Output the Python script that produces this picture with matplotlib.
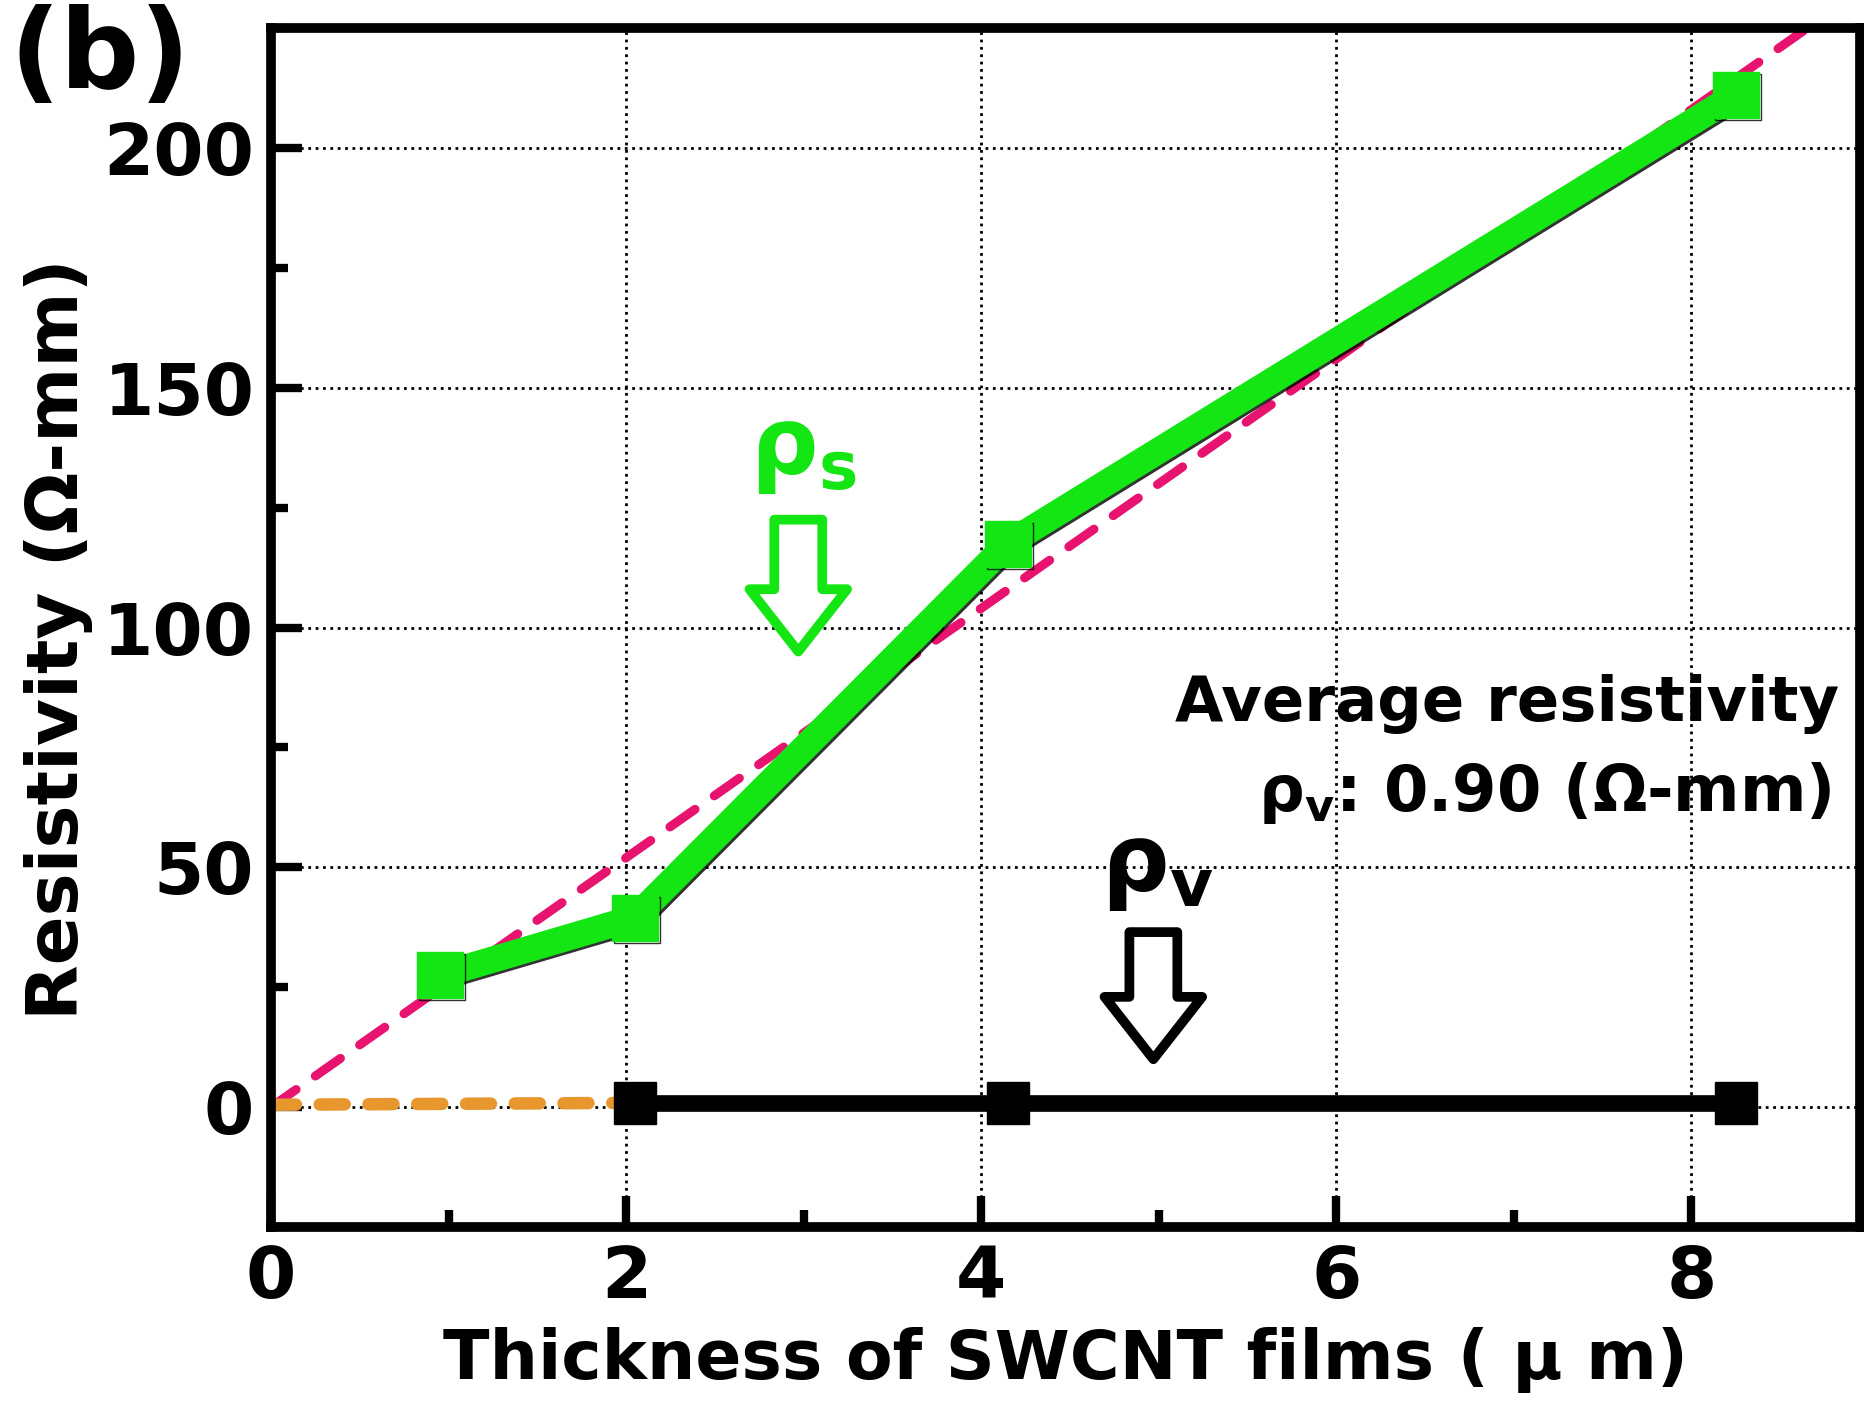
import matplotlib
matplotlib.use('Agg')
import matplotlib.pyplot as plt
import matplotlib.patches as mpatches
import matplotlib.patheffects as pe
from matplotlib.ticker import MultipleLocator

# surface resistivity (green) and volume resistivity (black)
thick_s = [0.95, 2.05, 4.15, 8.25]
rho_s = [27.5, 39.5, 117.5, 211.0]
thick_v = [2.05, 4.15, 8.25]
rho_v = [0.9, 0.9, 0.9]
# linear fit through origin (pink) and extrapolation of rho_v (orange)
fit_x = [0, 9.0]
fit_y = [0, 234.0]
ext_x = [0, 2.05]
ext_y = [0.5, 0.9]

green = '#14e614'
pink = '#e8136f'
orange = '#e8962e'

plt.rcParams['font.family'] = 'DejaVu Sans'
plt.rcParams['font.weight'] = 'bold'
plt.rcParams['mathtext.default'] = 'regular'

fig = plt.figure(figsize=(18.65, 14.03), dpi=100)
ax = fig.add_axes([0.1453, 0.1254, 0.8520, 0.8546])

ax.grid(True, which='major', color='black', linestyle=':', linewidth=2, zorder=0)

ax.plot(fit_x, fit_y, color=pink, linewidth=6.5, dashes=(3.4, 2.6),
        dash_capstyle='round', zorder=2)
ax.plot(ext_x, ext_y, color=orange, linewidth=9, dashes=(2.0, 1.9),
        dash_capstyle='round', zorder=2)
ax.plot(thick_v, rho_v, color='black', linewidth=12, marker='s',
        markersize=30, zorder=3)
ax.plot(thick_s, rho_s, color=green, linewidth=19, marker='s', markersize=33,
        zorder=4, solid_joinstyle='miter',
        path_effects=[pe.SimpleLineShadow(offset=(1.5, -1.5), shadow_color='black', alpha=0.8),
                      pe.Normal()])

ax.set_xlim(0, 8.95)
ax.set_ylim(-25, 225)
ax.xaxis.set_major_locator(MultipleLocator(2))
ax.xaxis.set_minor_locator(MultipleLocator(1))
ax.yaxis.set_major_locator(MultipleLocator(50))
ax.yaxis.set_minor_locator(MultipleLocator(25))
ax.tick_params(which='both', direction='in', width=6, labelsize=52,
               top=False, right=False)
ax.tick_params(which='major', length=22)
ax.tick_params(which='minor', length=12)
ax.tick_params(axis='x', pad=12)
ax.tick_params(axis='y', pad=12)
for s in ax.spines.values():
    s.set_linewidth(7)

ax.set_xlabel('Thickness of SWCNT films ( \u03bc m)', fontsize=49, fontweight='bold')
ax.xaxis.set_label_coords(0.5, -0.083)
ax.set_ylabel('Resistivity (\u03a9-mm)', fontsize=52, fontweight='bold')
ax.yaxis.set_label_coords(-0.112, 0.49)

# annotations
ax.text(8.83, 84, 'Average resistivity', fontsize=45, fontweight='bold',
        ha='right', va='center')
ax.text(8.79, 65.5, r'$\rho_{v}$: 0.90 ($\Omega$-mm)', fontsize=46,
        fontweight='bold', ha='right', va='center')

ax.text(3.0, 137, r'$\rho_{s}$', fontsize=68, fontweight='bold', color=green,
        ha='center', va='center')
ax.text(4.99, 50, r'$\rho_{v}$', fontsize=68, fontweight='bold', color='black',
        ha='center', va='center')

arr_s = mpatches.FancyArrow(2.97, 122.5, 0, -27.5, width=0.27, head_width=0.55,
                            head_length=13, length_includes_head=True,
                            facecolor='white', edgecolor=green, linewidth=7,
                            joinstyle='round', zorder=5)
ax.add_patch(arr_s)
arr_v = mpatches.FancyArrow(4.97, 36.5, 0, -26.5, width=0.27, head_width=0.55,
                            head_length=13, length_includes_head=True,
                            facecolor='white', edgecolor='black', linewidth=7,
                            joinstyle='round', zorder=5)
ax.add_patch(arr_v)

fig.text(0.005, 0.997, '(b)', fontsize=80, fontweight='bold', ha='left', va='top')

fig.savefig('out.png', dpi=100)
